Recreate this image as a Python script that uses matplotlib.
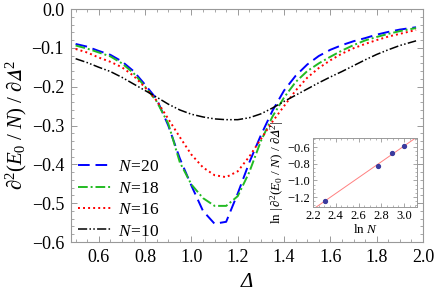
"""Second derivative of ground-state energy per site vs Delta"""

import numpy as np
import matplotlib
matplotlib.use("Agg")
import matplotlib.pyplot as plt
from matplotlib.ticker import MultipleLocator

plt.rcParams["font.family"] = "serif"
plt.rcParams["font.serif"] = ["Liberation Serif", "DejaVu Serif"]
plt.rcParams["mathtext.fontset"] = "custom"
plt.rcParams["mathtext.rm"] = "Liberation Serif"
plt.rcParams["mathtext.it"] = "Liberation Serif:italic"
plt.rcParams["mathtext.fallback"] = "stix"

# data
delta = [0.50, 0.55, 0.60, 0.65, 0.70, 0.75, 0.80, 0.85, 0.90, 0.95,
         1.00, 1.05, 1.10, 1.15, 1.20, 1.25, 1.30, 1.35, 1.40, 1.45,
         1.50, 1.55, 1.60, 1.65, 1.70, 1.75, 1.80, 1.85, 1.90, 1.97]

n20 = [-0.090, -0.097, -0.108, -0.118, -0.135, -0.160, -0.195, -0.232, -0.300, -0.385,
       -0.455, -0.520, -0.553, -0.548, -0.475, -0.395, -0.325, -0.262, -0.210, -0.172,
       -0.143, -0.121, -0.105, -0.093, -0.083, -0.075, -0.066, -0.059, -0.053, -0.047]

n18 = [-0.094, -0.102, -0.112, -0.122, -0.140, -0.165, -0.200, -0.238, -0.295, -0.395,
       -0.452, -0.487, -0.507, -0.507, -0.482, -0.420, -0.340, -0.277, -0.228, -0.188,
       -0.160, -0.140, -0.123, -0.107, -0.093, -0.081, -0.072, -0.064, -0.057, -0.049]

n16 = [-0.103, -0.112, -0.125, -0.136, -0.150, -0.172, -0.202, -0.236, -0.283, -0.330,
       -0.375, -0.408, -0.428, -0.433, -0.418, -0.380, -0.335, -0.290, -0.250, -0.210,
       -0.177, -0.152, -0.132, -0.115, -0.101, -0.090, -0.080, -0.071, -0.064, -0.054]

n10 = [-0.128, -0.138, -0.150, -0.161, -0.176, -0.193, -0.210, -0.227, -0.245, -0.260,
       -0.271, -0.278, -0.283, -0.285, -0.285, -0.280, -0.270, -0.255, -0.238, -0.222,
       -0.206, -0.190, -0.175, -0.161, -0.146, -0.131, -0.117, -0.105, -0.094, -0.082]

sizes = [10, 16, 18, 20]
ln_min = [-1.245, -0.825, -0.676, -0.588]

DELTA_IT = "\U0001D6E5"  # mathematical italic capital delta


def fmt(v, p):
	return f"{v:.1f}".replace("-", "\u2212")


fig = plt.figure(figsize=(4.36, 2.92), dpi=100)
ax = fig.add_axes([71 / 436, 1 - 242 / 292, 352 / 436, 233 / 292])

ax.plot(delta, n20, color="#0000ff", lw=1.4, ls=(0, (6, 3)), label=r"$N\!=\!20$")
ax.plot(delta, n18, color="#22bb22", lw=1.4, ls=(0, (5, 1.5, 1, 1.5)), label=r"$N\!=\!18$")
ax.plot(delta, n16, color="#ff0000", lw=1.4, ls=(0, (1, 1.6)), label=r"$N\!=\!16$")
ax.plot(delta, n10, color="black", lw=1.1, ls=(0, (6, 1.5, 1, 1.5, 1, 1.5)), label=r"$N\!=\!10$")

ax.set_xlim(0.48, 2.0)
ax.set_ylim(-0.6, 0.0)
ax.xaxis.set_major_locator(MultipleLocator(0.2))
ax.xaxis.set_minor_locator(MultipleLocator(0.05))
ax.yaxis.set_major_locator(MultipleLocator(0.1))
ax.yaxis.set_minor_locator(MultipleLocator(0.02))
ax.xaxis.set_major_formatter(plt.FuncFormatter(fmt))
ax.yaxis.set_major_formatter(plt.FuncFormatter(fmt))

for s in ax.spines.values():
	s.set_color("#999999")
	s.set_linewidth(0.8)
ax.tick_params(which="both", direction="in", top=True, right=True, color="#999999", labelsize=13)
ax.tick_params(which="major", length=4.5, width=0.7, pad=5)
ax.tick_params(which="minor", length=2.5, width=0.6)

ax.set_xlabel("Δ", fontsize=15, fontstyle="italic", labelpad=5)
ax.set_ylabel(r"$\partial^2(E_0\ /\ N)\ /\ \partial " + DELTA_IT + "^2$", fontsize=15, labelpad=2)

ax.legend(loc="upper left", bbox_to_anchor=(0.02, 0.355), frameon=False, fontsize=12.5,
	handlelength=1.9, handletextpad=0.4, labelspacing=0.3, borderpad=0, borderaxespad=0)

# inset: scaling of the minimum
ins = fig.add_axes([313 / 436, 1 - 207 / 292, 104 / 436, 69 / 292])
ln_n = np.log(sizes)
k, b = np.polyfit(ln_n, ln_min, 1)
xx = np.array([2.2, 3.12])
ins.plot(xx, k * xx + b, color="#ff8080", lw=0.7)
ins.plot(ln_n, ln_min, "o", color="#3b3b9e", ms=2.8)
ins.set_xlim(2.2, 3.114)
ins.set_ylim(-1.32, -0.49)
ins.xaxis.set_major_locator(MultipleLocator(0.2))
ins.xaxis.set_minor_locator(MultipleLocator(0.05))
ins.yaxis.set_major_locator(MultipleLocator(0.2))
ins.yaxis.set_minor_locator(MultipleLocator(0.05))
ins.xaxis.set_major_formatter(plt.FuncFormatter(fmt))
ins.yaxis.set_major_formatter(plt.FuncFormatter(fmt))
for s in ins.spines.values():
	s.set_color("#999999")
	s.set_linewidth(0.7)
ins.tick_params(which="both", direction="in", top=True, right=True, color="#999999", labelsize=9)
ins.tick_params(which="major", length=3, width=0.6, pad=2)
ins.tick_params(which="minor", length=1.5, width=0.5)
ins.set_xlabel(r"$\mathrm{ln}\ N$", fontsize=9.5, labelpad=1)
ins.set_ylabel(r"$\mathrm{ln}\ |\,\partial^2(E_0\ /\ N)\ /\ \partial " + DELTA_IT + "^2|$",
	fontsize=9.5, labelpad=1)

fig.savefig("out.png", dpi=100)
